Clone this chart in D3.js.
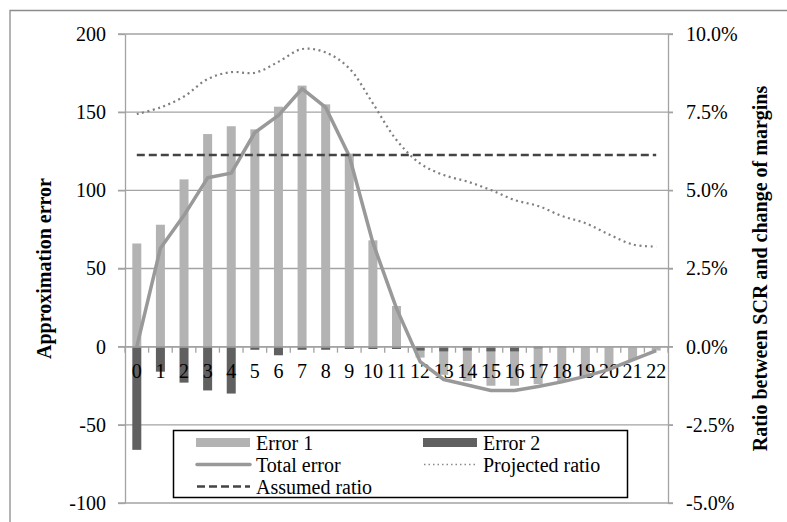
<!DOCTYPE html>
<html>
<head>
<meta charset="utf-8">
<script src="https://cdn.jsdelivr.net/npm/d3@7"></script>
<style>
  body { margin: 0; background: #fff; }
  svg text { font-family: "Liberation Serif", "Times New Roman", serif; fill: #000; }
</style>
</head>
<body>
<svg id="chart" width="787" height="522"></svg>
<script>
const categories = d3.range(0, 23).map(String);
const error1 = [66, 78, 107, 136, 141, 139, 153.5, 167, 155, 123.5, 68, 26,
                -7, -18, -22, -25, -25, -24, -22, -19, -14.5, -8.5, -2.5];
const error2 = [-66, -16, -23, -28, -30, -2, -5.5, -2, -2, -1.5, -1.5, -1.5,
                -2.5, -3, -2.5, -3, -3, -1, -0.5, 0, 0, 0, 0];
const totalError = [0, 63, 84, 108, 111, 137, 148, 165, 153, 122, 66.5, 24.5,
                    -9.5, -21, -24.5, -28, -28, -25.5, -22.5, -19, -14.5, -8.5, -2.5];
const projectedRatio = [0.0744, 0.0765, 0.080, 0.0856, 0.0878, 0.0876, 0.0911, 0.0952,
                        0.0941, 0.089, 0.0778, 0.0661, 0.0586, 0.0549, 0.0528, 0.0501,
                        0.0469, 0.045, 0.0418, 0.0395, 0.0359, 0.0327, 0.032];
const assumedRatio = [0.0613, 0.0613, 0.0613, 0.0613, 0.0613, 0.0613, 0.0613, 0.0613,
                      0.0613, 0.0613, 0.0613, 0.0613, 0.0613, 0.0613, 0.0613, 0.0613,
                      0.0613, 0.0613, 0.0613, 0.0613, 0.0613, 0.0613, 0.0613];
const leftTicks = [-100, -50, 0, 50, 100, 150, 200];
const rightTicks = [-0.05, -0.025, 0, 0.025, 0.05, 0.075, 0.10];
const legendItems = [
  { label: 'Error 1', kind: 'bar', color: '#b3b3b3' },
  { label: 'Error 2', kind: 'bar', color: '#606060' },
  { label: 'Total error', kind: 'total', color: '#999999' },
  { label: 'Projected ratio', kind: 'dotted', color: '#8a8a8a' },
  { label: 'Assumed ratio', kind: 'dashed', color: '#444444' }
];

const plot = { left: 125, right: 668, top: 34, bottom: 503 };
const svg = d3.select('#chart');
const gridColor = '#a3a3a3';
// plain hyphen for negatives, like the original
const hyphen = f => d => f(d).replace('\u2212', '-');

// outer chart border (top and left visible)
svg.append('path')
    .attr('d', 'M10,522 V10.5 H787')
    .attr('fill', 'none')
    .attr('stroke', '#8c8c8c')
    .attr('stroke-width', 1.3);

var x = d3.scaleBand()
    .domain(categories)
    .range([plot.left, plot.right])
    .padding(0);

var y = d3.scaleLinear()
    .domain([-100, 200])
    .range([plot.bottom, plot.top]);

var y2 = d3.scaleLinear()
    .domain([-0.05, 0.10])
    .range([plot.bottom, plot.top]);

// gridlines
svg.append('g')
    .selectAll('line')
    .data(leftTicks)
    .enter()
    .append('line')
    .attr('x1', plot.left - 7)
    .attr('x2', plot.right + 5)
    .attr('y1', d => y(d))
    .attr('y2', d => y(d))
    .attr('stroke', gridColor)
    .attr('stroke-width', 1.3);

// left axis
var leftAxis = svg.append('g')
    .attr('transform', 'translate(' + plot.left + ',0)')
    .call(d3.axisLeft(y).tickValues(leftTicks).tickSize(7).tickSizeOuter(0).tickPadding(12)
        .tickFormat(hyphen(d3.format('d'))));

// right axis
var rightAxis = svg.append('g')
    .attr('transform', 'translate(' + plot.right + ',0)')
    .call(d3.axisRight(y2).tickValues(rightTicks).tickSize(5).tickSizeOuter(0).tickPadding(13)
        .tickFormat(hyphen(d3.format('.1%'))));

[leftAxis, rightAxis].forEach(a => {
    a.select('.domain').attr('stroke', gridColor).attr('stroke-width', 1.3);
    a.selectAll('.tick line').attr('stroke', gridColor).attr('stroke-width', 1.3);
    a.selectAll('.tick text').style('font-size', '20px').attr('dy', '0.32em');
});

// bars: error 1 behind, error 2 in front (100% overlap)
var barW = 9;
svg.append('g')
    .selectAll('rect')
    .data(error1)
    .enter()
    .append('rect')
    .attr('x', (d, i) => x(categories[i]) + x.bandwidth() / 2 - barW / 2)
    .attr('y', d => y(Math.max(0, d)))
    .attr('width', barW)
    .attr('height', d => Math.abs(y(d) - y(0)))
    .attr('fill', '#b3b3b3');

svg.append('g')
    .selectAll('rect')
    .data(error2)
    .enter()
    .append('rect')
    .attr('x', (d, i) => x(categories[i]) + x.bandwidth() / 2 - barW / 2)
    .attr('y', d => y(Math.max(0, d)))
    .attr('width', barW)
    .attr('height', d => Math.abs(y(d) - y(0)))
    .attr('fill', '#606060');

// x axis at zero
var xAxis = svg.append('g')
    .attr('transform', 'translate(0,' + y(0) + ')')
    .call(d3.axisBottom(x).tickSize(0).tickPadding(17));
xAxis.select('.domain').attr('stroke', gridColor).attr('stroke-width', 1.3);
xAxis.selectAll('.tick text').style('font-size', '20px');

// category boundary ticks
svg.append('g')
    .selectAll('line')
    .data(categories.concat(['end']))
    .enter()
    .append('line')
    .attr('x1', d => d === 'end' ? plot.right : x(d))
    .attr('x2', d => d === 'end' ? plot.right : x(d))
    .attr('y1', y(0))
    .attr('y2', y(0) + 6)
    .attr('stroke', gridColor)
    .attr('stroke-width', 1.3);

var cx = (d, i) => x(categories[i]) + x.bandwidth() / 2;

// total error line
svg.append('path')
    .attr('d', d3.line().x(cx).y(d => y(d))(totalError))
    .attr('fill', 'none')
    .attr('stroke', '#999999')
    .attr('stroke-width', 3.5)
    .attr('stroke-linejoin', 'round');

// projected ratio (smoothed, dotted)
svg.append('path')
    .attr('d', d3.line().x(cx).y(d => y2(d)).curve(d3.curveCatmullRom.alpha(0.5))(projectedRatio))
    .attr('fill', 'none')
    .attr('stroke', '#7f7f7f')
    .attr('stroke-width', 2.2)
    .style('stroke-dasharray', '2,3.5');

// assumed ratio (dashed)
svg.append('path')
    .attr('d', d3.line().x(cx).y(d => y2(d))(assumedRatio))
    .attr('fill', 'none')
    .attr('stroke', '#444444')
    .attr('stroke-width', 2.5)
    .style('stroke-dasharray', '8,4');

// axis titles
svg.append('text')
    .attr('transform', 'translate(51,' + ((plot.top + plot.bottom) / 2) + ') rotate(-90)')
    .attr('text-anchor', 'middle')
    .style('font-size', '20px')
    .style('font-weight', 'bold')
    .text('Approximation error');

svg.append('text')
    .attr('transform', 'translate(767,' + ((plot.top + plot.bottom) / 2) + ') rotate(-90)')
    .attr('text-anchor', 'middle')
    .style('font-size', '20px')
    .style('font-weight', 'bold')
    .text('Ratio between SCR and change of margins');

// legend
var legend = svg.append('g');
legend.append('rect')
    .attr('x', 173.5)
    .attr('y', 430.5)
    .attr('width', 454)
    .attr('height', 67)
    .attr('fill', '#fff')
    .attr('stroke', '#000')
    .attr('stroke-width', 1.5);

legendItems.forEach((item, i) => {
    var lx = i % 2 === 0 ? 196 : 423;
    var ly = 442.5 + Math.floor(i / 2) * 22;
    var g = legend.append('g');
    if (item.kind === 'bar') {
        g.append('rect').attr('x', lx).attr('y', ly - 4.5).attr('width', 54).attr('height', 9)
            .attr('fill', item.color);
    } else {
        var l = g.append('line').attr('x1', lx + 1).attr('x2', lx + 54).attr('y1', ly).attr('y2', ly)
            .attr('stroke', item.color);
        if (item.kind === 'total') l.attr('stroke-width', 3.5).attr('stroke-linecap', 'round');
        if (item.kind === 'dotted') l.attr('stroke-width', 1.5).style('stroke-dasharray', '1.5,3');
        if (item.kind === 'dashed') l.attr('stroke-width', 2.5).style('stroke-dasharray', '8,4');
    }
    g.append('text')
        .attr('x', lx + 60)
        .attr('y', ly)
        .attr('dy', '0.35em')
        .style('font-size', '20px')
        .text(item.label);
});
</script>
</body>
</html>
